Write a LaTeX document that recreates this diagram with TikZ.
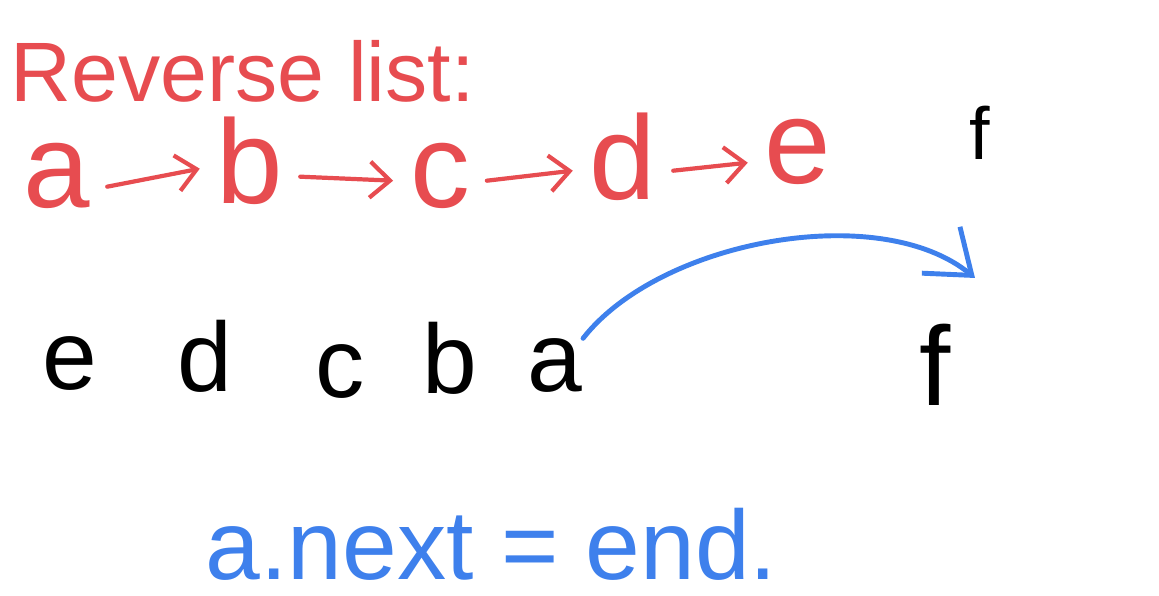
\documentclass[tikz,border=0pt]{standalone}
\usepackage{fontspec}
\setmainfont{Liberation Sans}
\usepackage{tikz}
\usetikzlibrary{arrows.meta}
\definecolor{inkred}{RGB}{231,76,80}
\definecolor{inkblue}{RGB}{62,128,236}
\tikzset{
  titletext/.style={text=inkred, font=\fontsize{24}{28}\selectfont, inner sep=0pt},
  redletter/.style={text=inkred, font=\fontsize{34}{40}\selectfont, anchor=base,
                    inner sep=0pt, outer sep=0.17cm},
  blackletter/.style={text=black, font=\fontsize{28}{34}\selectfont, anchor=base, inner sep=0pt},
  redarrow/.style={-{Straight Barb[length=2mm,width=3.6mm]}, line width=1.2pt,
                   inkred, line cap=round},
  bluelink/.style={-{Straight Barb[length=4mm,width=6mm]}, line width=1.4pt,
                   inkblue, line cap=round},
  notetext/.style={text=inkblue, font=\fontsize{28}{34}\selectfont, inner sep=0pt},
}
\begin{document}
\begin{tikzpicture}
  \useasboundingbox (0,0) rectangle (11.59,5.96);

  % Title
  \node[titletext, anchor=base west] (title) at (0.10,4.94) {Reverse list:};

  % original list (red)
  \node[redletter] (ra) at (0.57,3.88) {a};
  \node[redletter] (rb) at (2.50,3.92) {b};
  \node[redletter] (rc) at (4.40,3.88) {c};
  \node[redletter] (rd) at (6.23,3.96) {d};
  \node[redletter] (re) at (7.98,4.12) {e};
  \draw[redarrow] ([yshift=0.12cm]ra.mid east) -- ([yshift=0.26cm]rb.mid west);
  \draw[redarrow] ([yshift=0.18cm]rb.mid east) -- ([yshift=0.18cm]rc.mid west);
  \draw[redarrow] ([yshift=0.18cm]rc.mid east) -- ([yshift=0.20cm]rd.mid west);
  \draw[redarrow] ([yshift=0.20cm]rd.mid east) -- ([yshift=0.12cm]re.mid west);
  \node[blackletter, font=\fontsize{21}{25}\selectfont] (topf) at (9.80,4.36) {f};

  % reversed list (black)
  \node[blackletter] (be) at (0.70,2.06) {e};
  \node[blackletter] (bd) at (2.05,2.04) {d};
  \node[blackletter] (bc) at (3.40,1.98) {c};
  \node[blackletter] (bb) at (4.50,2.02) {b};
  \node[blackletter] (ba) at (5.55,2.04) {a};
  \node[blackletter, font=\fontsize{32}{38}\selectfont] (bf) at (9.35,1.90) {f};

  % a.next -> end
  \coordinate (ftip) at (9.75,3.18);
  \draw[bluelink] (ba.north east) .. controls (6.60,3.56) and (8.80,3.96) .. (ftip);
  \node[notetext, anchor=base west] (note) at (2.05,0.16) {a.next = end.};
\end{tikzpicture}
\end{document}
